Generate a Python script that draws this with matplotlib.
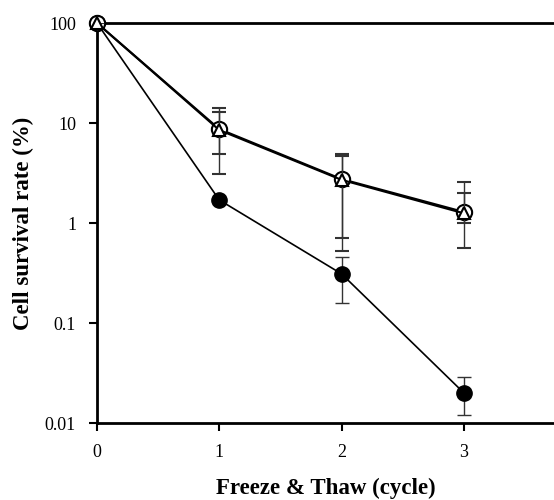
import matplotlib
matplotlib.use("Agg")
import matplotlib.pyplot as plt
import numpy as np

plt.rcParams['font.family'] = ['Liberation Serif', 'DejaVu Serif']

cycles = [0, 1, 2, 3]
filled = [100, 1.7, 0.31, 0.020]
filled_lo = [100, 1.7, 0.16, 0.012]
filled_hi = [100, 1.7, 0.46, 0.029]

open_circ = [100, 8.7, 2.75, 1.29]
open_circ_lo = [100, 3.1, 0.52, 0.56]
open_circ_hi = [100, 14.1, 4.9, 2.57]

tri = [100, 8.5, 2.7, 1.25]
tri_lo = [100, 4.9, 0.71, 1.0]
tri_hi = [100, 12.9, 4.7, 2.0]

yticks = [0.01, 0.1, 1, 10, 100]
ytick_labels = ['0.01', '0.1', '1', '10', '100']
xticks = [0, 1, 2, 3]

fig = plt.figure(figsize=(5.54, 5.0), dpi=100)
ax = fig.add_axes([0.175, 0.154, 0.825, 0.8])

def err(y, lo, hi):
    y = np.array(y); lo = np.array(lo); hi = np.array(hi)
    return [y - lo, hi - y]

ekw = dict(ecolor='#333333', elinewidth=1.0, capsize=5, capthick=1.0)
containers = []
containers.append(ax.errorbar(cycles, filled, yerr=err(filled, filled_lo, filled_hi), fmt='-o',
            color='black', lw=1.2, ms=11, mfc='black', mec='black', zorder=3, **ekw))
containers.append(ax.errorbar(cycles, open_circ, yerr=err(open_circ, open_circ_lo, open_circ_hi), fmt='-o',
            color='black', lw=1.5, ms=11, mfc='white', mec='black', mew=1.5, zorder=4, **ekw))
containers.append(ax.errorbar(cycles, tri, yerr=err(tri, tri_lo, tri_hi), fmt='-^',
            color='black', lw=1.5, ms=8, mfc='white', mec='black', mew=1.5, zorder=5, **ekw))
for c in containers:
    c.lines[0].set_clip_on(False)

ax.set_yscale('log')
ax.set_ylim(0.01, 100)
ax.set_xlim(0, 3.737)
ax.set_yticks(yticks)
ax.set_yticklabels(ytick_labels)
ax.minorticks_off()
ax.set_xticks(xticks)
ax.tick_params(direction='out', length=6, width=1.5, labelsize=13, pad=9)
ax.tick_params(axis='x', pad=9)
for s in ['left', 'bottom', 'top']:
    ax.spines[s].set_linewidth(2)
ax.spines['right'].set_visible(False)

ax.set_xlabel('Freeze & Thaw (cycle)', fontsize=16.5, fontweight='bold', labelpad=12)
ax.set_ylabel('Cell survival rate (%)', fontsize=16.5, fontweight='bold', labelpad=8)

fig.savefig('out.png', dpi=100)
